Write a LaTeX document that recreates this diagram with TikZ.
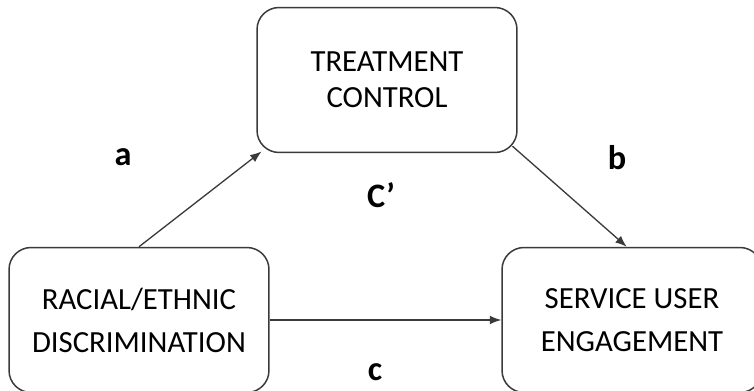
\documentclass[tikz,border=0pt]{standalone}
\usepackage{fontspec}
\setmainfont{Carlito}
\usetikzlibrary{arrows.meta}
\definecolor{linegray}{HTML}{3A3A3A}

\tikzset{
    box/.style={draw=linegray, line width=0.85pt, rounded corners=0.44cm,
        minimum width=5.2cm, minimum height=2.9cm, align=center,
        font=\fontsize{17.5}{24.5}\selectfont},
    path arrow/.style={draw=linegray, line width=0.75pt,
        -{Latex[length=6.5pt,width=5pt]}},
    coef/.style={font=\fontsize{19.5}{22}\bfseries}
}

\begin{document}
\begin{tikzpicture}[x=0.02cm, y=-0.02cm]
    % page frame
    \useasboundingbox (0,0) rectangle (754,391);
    \clip (0,0) rectangle (754,391);

    % Draw the boxes
    \node[box, font=\fontsize{17.5}{20.5}\selectfont] (treat) at (387,80) {TREATMENT\\CONTROL};
    \node[box] (discr) at (139,320) {RACIAL/ETHNIC\\DISCRIMINATION};
    \node[box] (engage) at (632,320) {SERVICE USER\\ENGAGEMENT};

    % Draw the paths
    \draw[path arrow] (discr.north) -- ([xshift=3pt,yshift=1pt]treat.south west);
    \draw[path arrow] ([xshift=-3pt,yshift=4pt]treat.south east) -- ([xshift=-3pt]engage.north);
    \draw[path arrow] (discr.east) -- (engage.west);

    % Label paths
    \node[coef] (la) at (123,157) {a};
    \node[coef] (lb) at (617,158) {b};
    \node[coef] (lc1) at (381,195) {C’};
    \node[coef] (lc) at (375,372) {c};
\end{tikzpicture}
\end{document}
